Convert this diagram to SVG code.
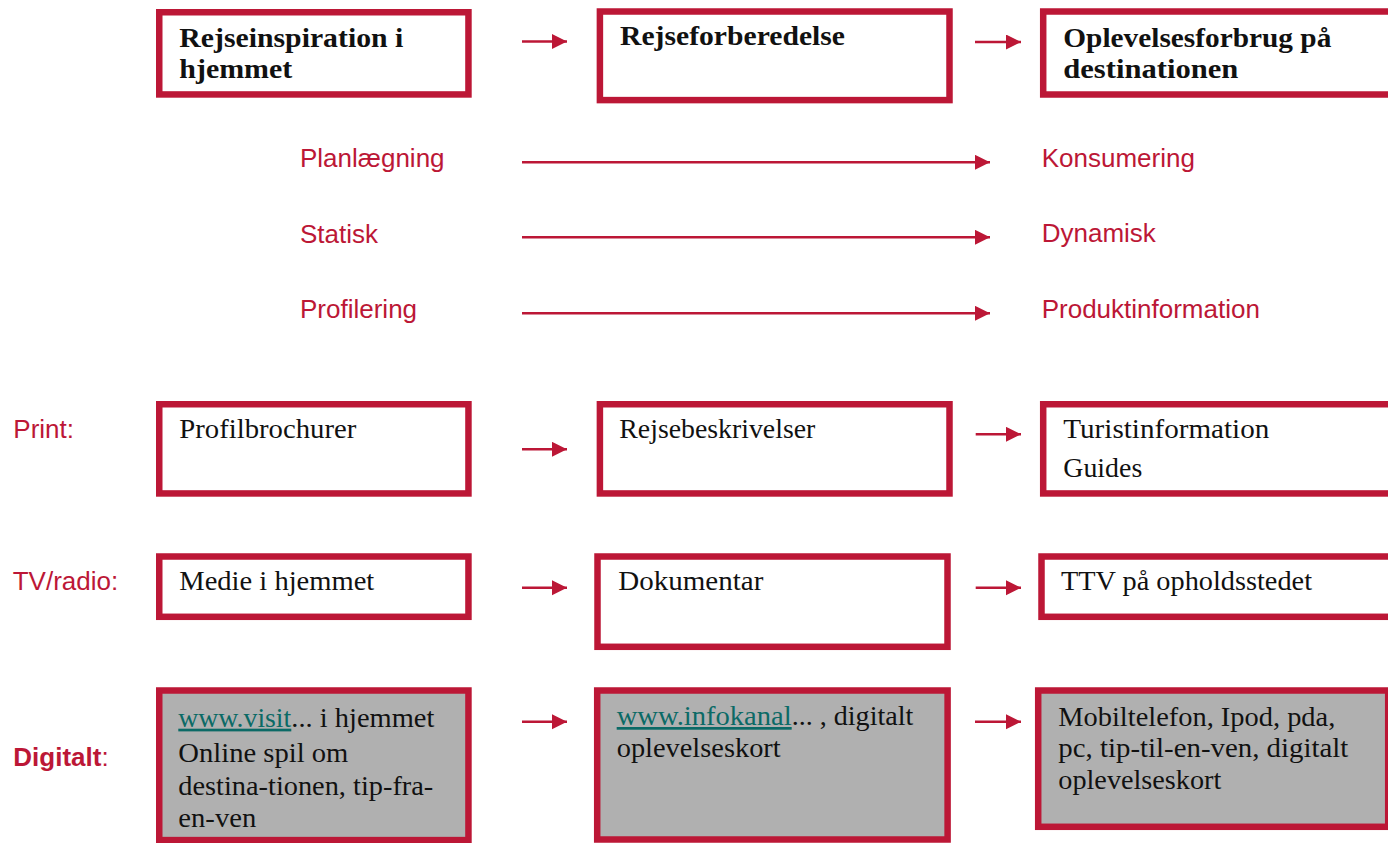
<svg xmlns="http://www.w3.org/2000/svg" width="1388" height="843" viewBox="0 0 1388 843">
<style>
.box{fill:#fff;stroke:#BC1736;stroke-width:6.5}
.gbox{fill:#B0B0B0;stroke:#BC1736;stroke-width:6.5}
.hd{font-family:"Liberation Serif",serif;font-weight:bold;font-size:27px;fill:#111}
.tx{font-family:"Liberation Serif",serif;font-size:27px;fill:#111}
.lk{fill:#0B6A66;text-decoration:underline}
.lb{font-family:"Liberation Sans",Arial,sans-serif;font-size:26px;fill:#BC1736}
.ar{stroke:#BC1736;stroke-width:2.6;fill:none;marker-end:url(#ah)}
</style>
<defs>
<marker id="ah" markerUnits="userSpaceOnUse" markerWidth="16" markerHeight="16" refX="15" refY="7.5" orient="auto">
<path d="M0,0 L15,7.5 L0,15 z" fill="#BC1736"/>
</marker>
</defs>
<rect width="1388" height="843" fill="#fff"/>

<g id="connectors">
<line class="ar" x1="522" y1="41.5" x2="567" y2="41.5"/>
<line class="ar" x1="975" y1="42" x2="1021" y2="42"/>
<line class="ar" x1="522" y1="162.3" x2="990" y2="162.3"/>
<line class="ar" x1="522" y1="237.3" x2="990" y2="237.3"/>
<line class="ar" x1="522" y1="313.3" x2="990" y2="313.3"/>
<line class="ar" x1="522" y1="449.3" x2="567" y2="449.3"/>
<line class="ar" x1="975.7" y1="434.3" x2="1021" y2="434.3"/>
<line class="ar" x1="522" y1="587.7" x2="567" y2="587.7"/>
<line class="ar" x1="975.7" y1="587.7" x2="1021" y2="587.7"/>
<line class="ar" x1="522" y1="721.7" x2="567" y2="721.7"/>
<line class="ar" x1="975" y1="721.7" x2="1021" y2="721.7"/>
</g>

<g id="hdr1">
<rect class="box" x="159.25" y="12.25" width="309.2" height="82.2"/>
<text class="hd" x="179.3" y="46.7" textLength="224" lengthAdjust="spacingAndGlyphs">Rejseinspiration i</text>
<text class="hd" x="179.3" y="77.7" textLength="113" lengthAdjust="spacingAndGlyphs">hjemmet</text>
</g>
<g id="hdr2">
<rect class="box" x="599.9" y="11.5" width="349.6" height="88.6"/>
<text class="hd" x="620" y="45" textLength="225" lengthAdjust="spacingAndGlyphs">Rejseforberedelse</text>
</g>
<g id="hdr3">
<rect class="box" x="1043.2" y="11.5" width="360" height="83"/>
<text class="hd" x="1063.3" y="46.7" textLength="268" lengthAdjust="spacingAndGlyphs">Oplevelsesforbrug på</text>
<text class="hd" x="1063.3" y="77.7" textLength="175" lengthAdjust="spacingAndGlyphs">destinationen</text>
</g>

<g id="mid-left">
<text class="lb" x="300" y="167.3">Planlægning</text>
<text class="lb" x="300" y="242.7">Statisk</text>
<text class="lb" x="300" y="318.3">Profilering</text>
</g>
<g id="mid-right">
<text class="lb" x="1041.7" y="166.7">Konsumering</text>
<text class="lb" x="1041.7" y="241.7">Dynamisk</text>
<text class="lb" x="1041.7" y="318.3">Produktinformation</text>
</g>

<g id="row-labels">
<text class="lb" x="13.3" y="438.3">Print:</text>
<text class="lb" x="12.7" y="590">TV/radio:</text>
<text class="lb" x="13.3" y="766"><tspan font-weight="bold">Digitalt</tspan>:</text>
</g>

<g id="print1">
<rect class="box" x="159.25" y="404.25" width="309.2" height="89.2"/>
<text class="tx" x="179.3" y="437.7" textLength="177" lengthAdjust="spacingAndGlyphs">Profilbrochurer</text>
</g>
<g id="print2">
<rect class="box" x="599.9" y="404.25" width="349.6" height="89.2"/>
<text class="tx" x="619.3" y="437.7" textLength="196" lengthAdjust="spacingAndGlyphs">Rejsebeskrivelser</text>
</g>
<g id="print3">
<rect class="box" x="1043.2" y="404.25" width="360" height="89.2"/>
<text class="tx" x="1063.3" y="438.3" textLength="206" lengthAdjust="spacingAndGlyphs">Turistinformation</text>
<text class="tx" x="1063.3" y="476.7" textLength="79" lengthAdjust="spacingAndGlyphs">Guides</text>
</g>

<g id="tv1">
<rect class="box" x="159.25" y="556.5" width="309.2" height="60.3"/>
<text class="tx" x="179.3" y="590" textLength="195" lengthAdjust="spacingAndGlyphs">Medie i hjemmet</text>
</g>
<g id="tv2">
<rect class="box" x="597.5" y="556.5" width="350" height="90.3"/>
<text class="tx" x="618.3" y="590" textLength="145" lengthAdjust="spacingAndGlyphs">Dokumentar</text>
</g>
<g id="tv3">
<rect class="box" x="1041.5" y="556.5" width="360" height="60.3"/>
<text class="tx" x="1061" y="590" textLength="251" lengthAdjust="spacingAndGlyphs">TTV på opholdsstedet</text>
</g>

<g id="dig1">
<rect class="gbox" x="159.25" y="690.5" width="309.2" height="149.6"/>
<text class="tx" x="178.3" y="726.7"><tspan class="lk" textLength="113" lengthAdjust="spacingAndGlyphs">www.visit</tspan><tspan textLength="143" lengthAdjust="spacingAndGlyphs">... i hjemmet</tspan></text>
<text class="tx" x="178.3" y="761.7" textLength="170" lengthAdjust="spacingAndGlyphs">Online spil om</text>
<text class="tx" x="178.3" y="795" textLength="255" lengthAdjust="spacingAndGlyphs">destina-tionen, tip-fra-</text>
<text class="tx" x="178.3" y="826.7" textLength="78" lengthAdjust="spacingAndGlyphs">en-ven</text>
</g>
<g id="dig2">
<rect class="gbox" x="597.2" y="690.5" width="350.4" height="149"/>
<text class="tx" x="616.7" y="725"><tspan class="lk" textLength="175" lengthAdjust="spacingAndGlyphs">www.infokanal</tspan><tspan textLength="121.6" lengthAdjust="spacingAndGlyphs">... , digitalt</tspan></text>
<text class="tx" x="616.7" y="756.7" textLength="164" lengthAdjust="spacingAndGlyphs">oplevelseskort</text>
</g>
<g id="dig3">
<rect class="gbox" x="1038.2" y="690.5" width="350" height="136.3"/>
<text class="tx" x="1058.3" y="725.7" textLength="277" lengthAdjust="spacingAndGlyphs">Mobiltelefon, Ipod, pda,</text>
<text class="tx" x="1058.3" y="756.7" textLength="290" lengthAdjust="spacingAndGlyphs">pc, tip-til-en-ven, digitalt</text>
<text class="tx" x="1058.3" y="789.3" textLength="163" lengthAdjust="spacingAndGlyphs">oplevelseskort</text>
</g>
</svg>
